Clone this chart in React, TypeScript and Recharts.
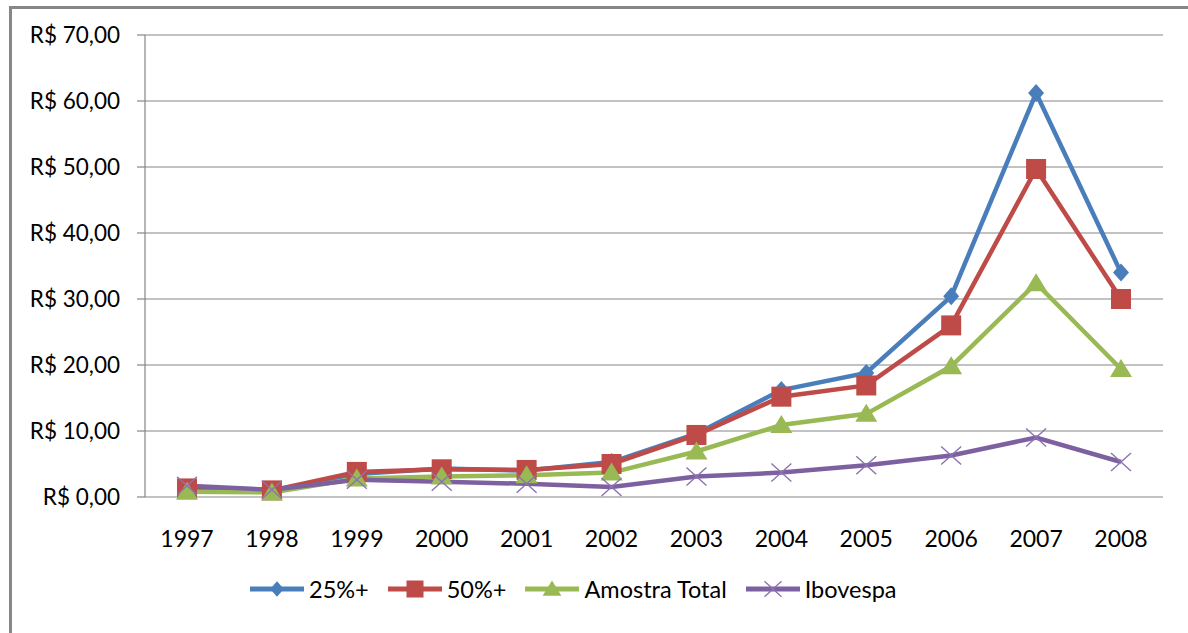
import { LineChart, Line, XAxis, YAxis, CartesianGrid, Legend } from "recharts";

const years = ["1997", "1998", "1999", "2000", "2001", "2002", "2003", "2004", "2005", "2006", "2007", "2008"];
const s25 = [1.4, 1.0, 3.5, 4.3, 4.0, 5.3, 9.6, 16.2, 18.8, 30.4, 61.2, 34.0];
const s50 = [1.3, 1.0, 3.8, 4.2, 4.1, 5.0, 9.4, 15.2, 16.9, 26.0, 49.7, 30.0];
const amostra = [0.8, 0.7, 2.8, 3.1, 3.3, 3.7, 6.9, 10.9, 12.6, 19.8, 32.4, 19.4];
const ibovespa = [1.7, 1.1, 2.6, 2.3, 2.0, 1.5, 3.1, 3.7, 4.8, 6.3, 9.0, 5.3];
const yTicks = [0, 10, 20, 30, 40, 50, 60, 70];

const data = years.map((year, i) => ({
  year,
  s25: s25[i],
  s50: s50[i],
  amostra: amostra[i],
  ibovespa: ibovespa[i],
}));

// tick marks sit between categories, like the excel original
const boundaryTicks = years.map((_, i) => i).concat(years.length);

const FONT = "Lato, 'DejaVu Sans', sans-serif";
const GRID = "#868686";

const BLUE = "#4A7EBB";
const RED = "#BE4B48";
const GREEN = "#98B954";
const PURPLE = "#7D60A0";

const formatReal = (v: number) => `R$ ${v.toFixed(2).replace(".", ",")}`;

const Diamond = ({ cx, cy, s = 1 }: any) => (
  <polygon
    points={`${cx},${cy - 9 * s} ${cx + 8 * s},${cy} ${cx},${cy + 9 * s} ${cx - 8 * s},${cy}`}
    fill={BLUE}
  />
);
const Square = ({ cx, cy, s = 1 }: any) => (
  <rect x={cx - 10 * s} y={cy - 10 * s} width={20 * s} height={20 * s} fill={RED} />
);
const Triangle = ({ cx, cy, s = 1 }: any) => (
  <polygon
    points={`${cx},${cy - 10 * s} ${cx + 11 * s},${cy + 8 * s} ${cx - 11 * s},${cy + 8 * s}`}
    fill={GREEN}
  />
);
const Cross = ({ cx, cy, s = 1 }: any) => (
  <g stroke="#8C72B0" strokeWidth={1.4}>
    <line x1={cx - 10 * s} y1={cy - 9 * s} x2={cx + 10 * s} y2={cy + 9 * s} />
    <line x1={cx - 10 * s} y1={cy + 9 * s} x2={cx + 10 * s} y2={cy - 9 * s} />
  </g>
);

const legendItems = [
  { name: "25%+", color: BLUE, Marker: Diamond },
  { name: "50%+", color: RED, Marker: Square },
  { name: "Amostra Total", color: GREEN, Marker: Triangle },
  { name: "Ibovespa", color: PURPLE, Marker: Cross },
];

const renderLegend = () => (
  <div style={{ display: "flex", alignItems: "center", fontFamily: FONT, fontSize: 23.5, color: "#000", lineHeight: "28px" }}>
    {legendItems.map(({ name, color, Marker }) => (
      <div key={name} style={{ display: "flex", alignItems: "center", marginRight: 18 }}>
        <svg width={56} height={24} style={{ marginRight: 4 }}>
          <line x1={1} y1={12} x2={55} y2={12} stroke={color} strokeWidth={5} />
          <Marker cx={28} cy={12} s={0.85} />
        </svg>
        <span>{name}</span>
      </div>
    ))}
  </div>
);

export default function App() {
  return (
    <div style={{ position: "absolute", left: 0, top: 0, width: 1188, height: 633, overflow: "hidden", background: "#fff" }}>
      <div
        style={{
          position: "absolute",
          left: 9,
          top: 6,
          width: 1300,
          height: 800,
          border: "3px solid #878787",
        }}
      />
      <div style={{ position: "absolute", left: 0, top: 0 }}>
        <LineChart width={1188} height={633} data={data} margin={{ top: 35, right: 25, bottom: 0, left: 0 }}>
          <CartesianGrid vertical={false} stroke={GRID} strokeWidth={1.2} />
          <XAxis
            xAxisId="marks"
            type="number"
            domain={[0, years.length]}
            ticks={boundaryTicks}
            height={0}
            tickSize={8}
            axisLine={{ stroke: GRID, strokeWidth: 1.2 }}
            tickLine={{ stroke: GRID, strokeWidth: 1.2 }}
            tickFormatter={() => ""}
            allowDataOverflow
          />
          <XAxis
            dataKey="year"
            height={136}
            padding={{ left: 42, right: 42 }}
            axisLine={false}
            tickLine={false}
            tickSize={0}
            tickMargin={34}
            interval={0}
            tick={{ fill: "#000", fontSize: 23, fontFamily: FONT }}
          />
          <YAxis
            width={145}
            domain={[0, 70]}
            ticks={yTicks}
            tickFormatter={formatReal}
            axisLine={{ stroke: GRID, strokeWidth: 1.2 }}
            tickLine={{ stroke: GRID, strokeWidth: 1.2 }}
            tickSize={8}
            tickMargin={17}
            tick={{ fill: "#000", fontSize: 22.5, fontFamily: FONT }}
          />
          <Legend
            content={renderLegend}
            layout="vertical"
            align="center"
            verticalAlign="middle"
            wrapperStyle={{ position: "absolute", left: 249, top: 575, width: 800 }}
          />
          <Line dataKey="s25" name="25%+" stroke={BLUE} strokeWidth={4.5} dot={<Diamond />} activeDot={false} isAnimationActive={false} />
          <Line dataKey="s50" name="50%+" stroke={RED} strokeWidth={4.5} dot={<Square />} activeDot={false} isAnimationActive={false} />
          <Line dataKey="amostra" name="Amostra Total" stroke={GREEN} strokeWidth={4.5} dot={<Triangle />} activeDot={false} isAnimationActive={false} />
          <Line dataKey="ibovespa" name="Ibovespa" stroke={PURPLE} strokeWidth={4.5} dot={<Cross />} activeDot={false} isAnimationActive={false} />
        </LineChart>
      </div>
    </div>
  );
}
